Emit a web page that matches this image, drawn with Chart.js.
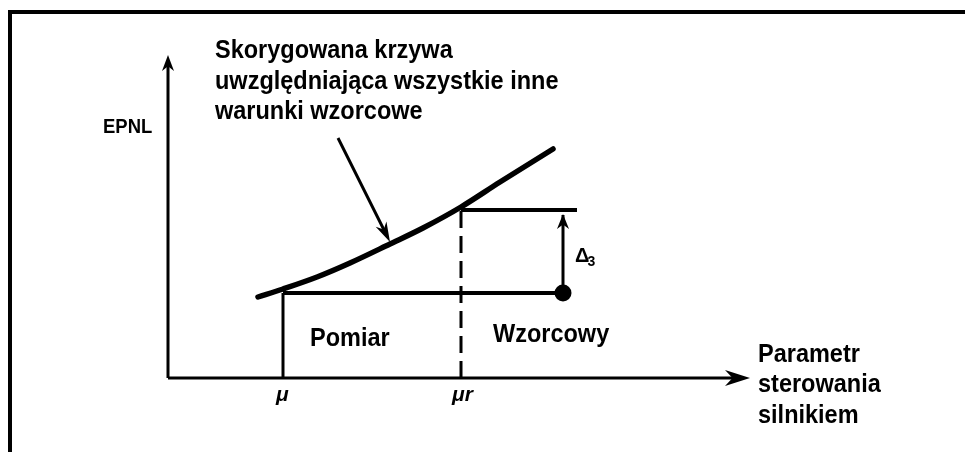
<!DOCTYPE html>
<html>
<head>
<meta charset="utf-8">
<script src="https://cdn.jsdelivr.net/npm/chart.js@4/dist/chart.umd.min.js"></script>
<style>
  html, body { margin: 0; padding: 0; background: #fff; }
  #wrap { position: relative; width: 965px; height: 452px; }
  canvas { display: block; }
</style>
</head>
<body>
<div id="wrap"><canvas id="c" width="965" height="452"></canvas></div>
<script>
// ---- Data (schematic units: origin at the axes' crossing) ----
const curveX = [9.0, 11.5, 14.9, 18.2, 22.2, 25.5, 29.3, 33.2, 38.5];
const curveY = [8.1, 8.9, 10.1, 11.5, 13.4, 15.0, 17.1, 19.6, 22.9];
const muX = 11.5;        // measured control parameter
const muRX = 29.3;       // reference control parameter
const measLevel = 8.5;   // measured EPNL level
const refLevel = 16.8;   // corrected EPNL at reference
const dotX = 39.5;       // x of measured point shifted / Δ3 arrow
const refLineEndX = 40.9;
const xAxisEnd = 58.2;
const yAxisEnd = 32.3;
const pointerFrom = [17.0, 24.0];
const pointerTo = [22.2, 13.6];
const xTickLabels = ['μ', 'μr'];

const pts = (xs, ys) => xs.map((x, i) => ({x, y: ys[i]}));
const seg = (a, b) => [{x: a[0], y: a[1]}, {x: b[0], y: b[1]}];
const black = '#000';
const lineDs = (data, w, extra) => Object.assign({
  data, showLine: true, borderColor: black, backgroundColor: black,
  borderWidth: w, pointRadius: 0, pointHoverRadius: 0, tension: 0
}, extra || {});

const datasets = [
  lineDs(pts(curveX, curveY), 5.5, {tension: 0.4, cubicInterpolationMode: 'monotone', borderCapStyle: 'round'}),
  lineDs(seg([0, 0], [xAxisEnd - 1.5, 0]), 3),
  lineDs(seg([0, 0], [0, yAxisEnd - 1]), 3),
  lineDs(seg([muX, 0], [muX, measLevel]), 3),
  lineDs(seg([muX, measLevel], [dotX, measLevel]), 4),
  lineDs(seg([muRX, 0], [muRX, refLevel]), 3, {borderDash: [17, 8]}),
  lineDs(seg([muRX, refLevel], [refLineEndX, refLevel]), 4),
  lineDs(seg([dotX, measLevel], [dotX, refLevel - 0.5]), 3),
  lineDs(seg(pointerFrom, [pointerTo[0] - 0.4, pointerTo[1] + 0.8]), 3),
  {data: [{x: dotX, y: measLevel}], showLine: false, pointRadius: 8.5, pointHoverRadius: 8.5,
   pointBackgroundColor: black, pointBorderColor: black, pointBorderWidth: 0}
];

const arrows = [
  {from: [0, 0], to: [xAxisEnd, 0], len: 25, half: 8},
  {from: [0, 0], to: [0, yAxisEnd], len: 16, half: 6},
  {from: [dotX, measLevel], to: [dotX, refLevel - 0.4], len: 15, half: 6},
  {from: pointerFrom, to: pointerTo, len: 20, half: 6}
];

const FONT = '"Liberation Sans", Arial, Helvetica, sans-serif';
const MAIN = 'bold 25px ' + FONT;
const SX = 0.94;

const texts = [
  {t: 'Skorygowana krzywa', x: 4.7, y: 32.0, f: MAIN, sx: SX},
  {t: 'uwzględniająca wszystkie inne', x: 4.7, y: 28.95, f: MAIN, sx: SX},
  {t: 'warunki wzorcowe', x: 4.7, y: 25.9, f: MAIN, sx: SX},
  {t: 'EPNL', x: -6.5, y: 24.5, f: 'bold 21px ' + FONT, sx: 0.88},
  {t: 'Pomiar', x: 14.2, y: 3.2, f: MAIN, sx: SX},
  {t: 'Wzorcowy', x: 32.5, y: 3.6, f: MAIN, sx: SX},
  {t: 'Parametr', x: 59.0, y: 1.6, f: MAIN, sx: SX},
  {t: 'sterowania', x: 59.0, y: -1.4, f: MAIN, sx: SX},
  {t: 'silnikiem', x: 59.0, y: -4.5, f: MAIN, sx: SX},
  {t: xTickLabels[0], x: muX - 0.7, y: -2.3, f: 'italic bold 21px ' + FONT},
  {t: xTickLabels[1], x: muRX - 0.9, y: -2.3, f: 'italic bold 21px ' + FONT},
  {t: 'Δ', x: 40.7, y: 11.6, f: 'bold 20px ' + FONT},
  {t: '3', x: 41.95, y: 11.2, f: 'bold 14px ' + FONT}
];

const overlay = {
  id: 'overlay',
  afterDatasetsDraw(chart) {
    const {ctx, scales: {x, y}} = chart;
    ctx.save();
    // frame
    ctx.fillStyle = black;
    ctx.fillRect(8, 10, 957, 4);
    ctx.fillRect(8, 10, 4, 442);
    // arrowheads
    arrows.forEach(a => {
      const x0 = x.getPixelForValue(a.from[0]), y0 = y.getPixelForValue(a.from[1]);
      const x1 = x.getPixelForValue(a.to[0]), y1 = y.getPixelForValue(a.to[1]);
      const ang = Math.atan2(y1 - y0, x1 - x0);
      ctx.save();
      ctx.translate(x1, y1);
      ctx.rotate(ang);
      ctx.beginPath();
      ctx.moveTo(0, 0);
      ctx.lineTo(-a.len, -a.half);
      ctx.lineTo(-a.len * 0.7, 0);
      ctx.lineTo(-a.len, a.half);
      ctx.closePath();
      ctx.fill();
      ctx.restore();
    });
    // texts
    ctx.textBaseline = 'alphabetic';
    ctx.textAlign = 'left';
    texts.forEach(o => {
      ctx.font = o.f;
      const px = x.getPixelForValue(o.x), py = y.getPixelForValue(o.y);
      ctx.save();
      ctx.translate(px, py);
      if (o.sx) ctx.scale(o.sx, 1);
      ctx.fillText(o.t, 0, 0);
      ctx.restore();
    });
    ctx.restore();
  }
};

new Chart(document.getElementById('c'), {
  type: 'scatter',
  data: {datasets},
  options: {
    responsive: false,
    animation: false,
    devicePixelRatio: 1,
    layout: {padding: 0, autoPadding: false},
    plugins: {legend: {display: false}, tooltip: {enabled: false}},
    scales: {
      x: {type: 'linear', min: -16.8, max: 79.7, display: false},
      y: {type: 'linear', min: -7.4, max: 37.8, display: false}
    }
  },
  plugins: [overlay]
});
</script>
</body>
</html>
